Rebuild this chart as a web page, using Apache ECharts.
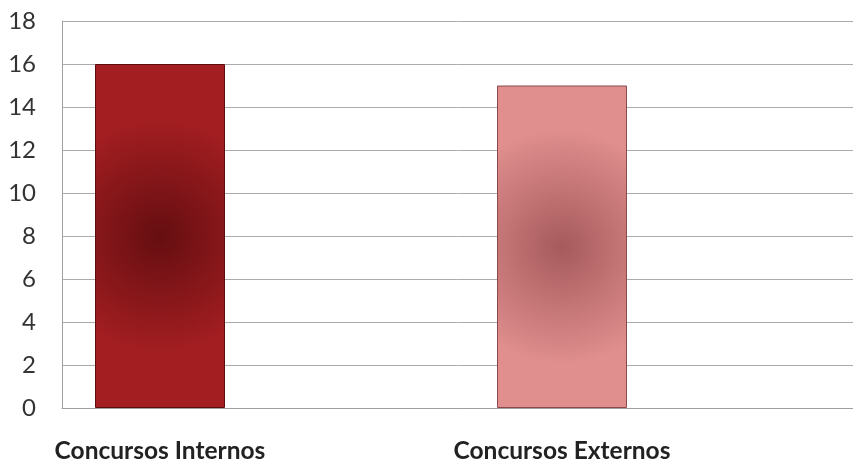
<!DOCTYPE html>
<html>
<head>
<meta charset="utf-8">
<script src="https://cdn.jsdelivr.net/npm/echarts@6/dist/echarts.min.js"></script>
<style>
  html, body { margin: 0; padding: 0; background: #ffffff; }
  #chart { width: 853px; height: 465px; }
</style>
</head>
<body>
<div id="chart"></div>
<script>
// Número de concursos por tipo
const categories = ['Concursos Internos', 'Concursos Externos'];
const values = [16, 15];
const yTicks = [0, 2, 4, 6, 8, 10, 12, 14, 16, 18];

// Relleno de cada barra: borde claro, centro oscuro
const fills = [
  { edge: '#a31e21', mid: '#650e11', border: '#5a0c0e' },
  { edge: '#e08e8e', mid: '#a65a5c', border: '#8a4a4c' }
];

const chart = echarts.init(document.getElementById('chart'));

const barData = values.map((v, i) => ({
  value: v,
  itemStyle: {
    color: new echarts.graphic.RadialGradient(0.5, 0.5, 0.9, [
      { offset: 0, color: fills[i].mid },
      { offset: 1, color: fills[i].edge }
    ]),
    borderColor: fills[i].border,
    borderWidth: 1
  }
}));

const yMin = yTicks[0];
const yMax = yTicks[yTicks.length - 1];
const yStep = yTicks[1] - yTicks[0];

chart.setOption({
  animation: false,
  grid: [
    // marco con ejes y líneas de guía
    { left: 62, right: 0, top: 21, bottom: 57 },
    // zona de categorías: cada categoría en su centro
    { left: 160, right: 291, top: 21, bottom: 57 }
  ],
  xAxis: [
    {
      gridIndex: 0,
      type: 'value',
      min: 0, max: 1,
      axisLine: { show: true, lineStyle: { color: '#a0a0a0', width: 1 } },
      axisTick: { show: false },
      axisLabel: { show: false },
      splitLine: { show: false }
    },
    {
      gridIndex: 1,
      type: 'category',
      boundaryGap: false,
      data: categories,
      axisLine: { show: false },
      axisTick: { show: false },
      axisLabel: {
        margin: 31,
        color: '#222222',
        fontFamily: 'Lato',
        fontWeight: 'bold',
        fontSize: 24.5
      }
    }
  ],
  yAxis: [
    {
      gridIndex: 0,
      type: 'value',
      min: yMin, max: yMax, interval: yStep,
      axisLine: { show: true, lineStyle: { color: '#a0a0a0', width: 1 } },
      axisTick: { show: false },
      splitLine: { show: true, lineStyle: { color: '#ababab', width: 1 } },
      axisLabel: {
        margin: 26,
        color: '#333333',
        fontFamily: 'Lato',
        fontSize: 24
      }
    },
    {
      gridIndex: 1,
      type: 'value',
      min: yMin, max: yMax, interval: yStep,
      show: false
    }
  ],
  series: [{
    type: 'bar',
    xAxisIndex: 1,
    yAxisIndex: 1,
    barWidth: 130,
    data: barData
  }]
});
</script>
</body>
</html>
